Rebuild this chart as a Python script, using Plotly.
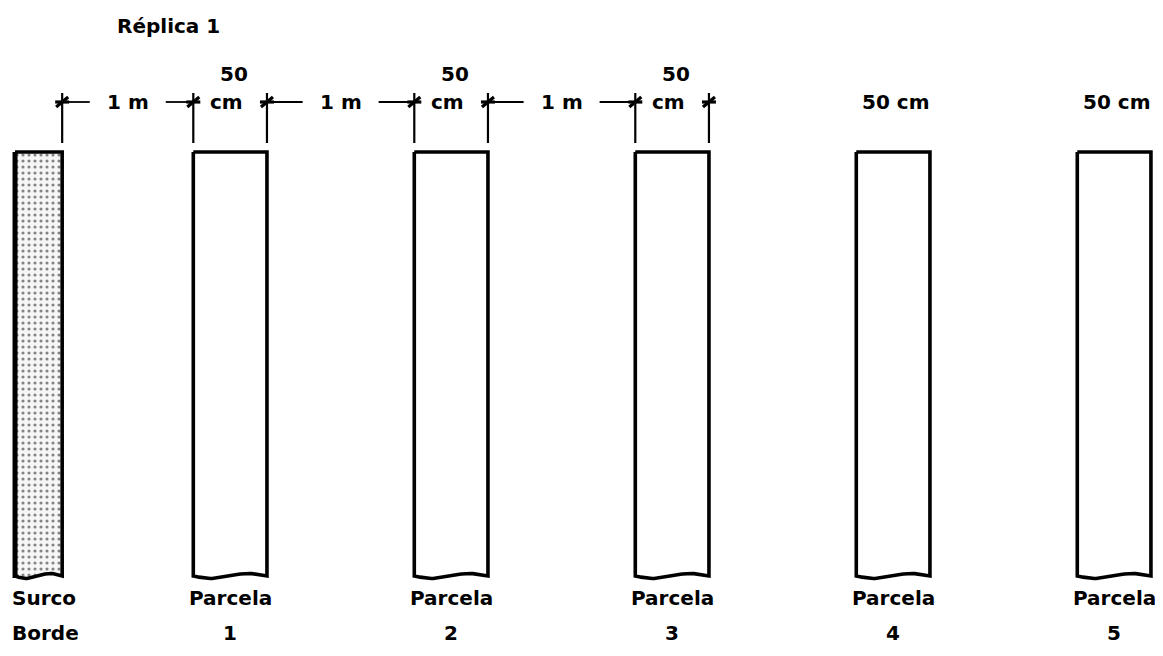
import numpy as np
import plotly.graph_objects as go

# ---------------- data ----------------
title_text = "Réplica 1"
row_names = ["Surco", "Parcela", "Parcela", "Parcela", "Parcela", "Parcela"]
row_ids = ["Borde", "1", "2", "3", "4", "5"]
row_widths_cm = [32, 50, 50, 50, 50, 50]          # width of each row
gap_before_cm = [0, 89, 100, 100, 100, 100]       # spacing before each row, as drawn
gap_label = "1 m"
width_value = "50"
width_unit = "cm"
dimensioned_gaps = [1, 2, 3]      # gaps carrying a "1 m" label (index of following row)
stacked_width_rows = [1, 2, 3]    # rows with "50" above "cm"
inline_width_rows = [4, 5]        # rows with "50 cm" on one line

# ---------------- layout constants ----------------
W, H = 1163, 656
PAGE_OFFSET = 8                    # default body margin of the page
FIG_W, FIG_H = W - PAGE_OFFSET, H - PAGE_OFFSET
PX_PER_CM = 1.4733
X0 = -10.2                          # value at window x = 0
X_MIN = X0 + PAGE_OFFSET / PX_PER_CM
X_MAX = X_MIN + FIG_W / PX_PER_CM
ROW_TOP, ROW_BOTTOM = 152, 576
DIM_Y = 102
FONT = dict(family="DejaVu Sans", size=20, color="black")

def px(v):
    return v / PX_PER_CM

lefts = []
pos = 0.0
for g, w in zip(gap_before_cm, row_widths_cm):
    pos += g
    lefts.append(pos)
    pos += w
rights = [l + w for l, w in zip(lefts, row_widths_cm)]
centers = [(l + r) / 2 for l, r in zip(lefts, rights)]

fig = go.Figure()

# ---------------- rows ----------------
for i, (l, r) in enumerate(zip(lefts, rights)):
    t = np.linspace(0, 1, 40)
    wx = r - (r - l) * t
    wy = ROW_BOTTOM + 2.5 * np.sin(2 * np.pi * (1 - t))
    xs = [l, r] + list(wx) + [l]
    ys = [ROW_TOP, ROW_TOP] + list(wy) + [ROW_TOP]
    kw = {}
    if i == 0:
        kw = dict(fill="toself", fillcolor="white",
                  fillpattern=dict(shape=".", size=6, solidity=0.22,
                                   fgcolor="#111", bgcolor="#f6f6f6"))
    fig.add_trace(go.Scatter(x=xs, y=ys, mode="lines",
                             line=dict(color="black", width=3.6),
                             hoverinfo="skip", showlegend=False, **kw))
# heavier left edge of the border row
fig.add_trace(go.Scatter(x=[lefts[0], lefts[0]], y=[ROW_TOP, ROW_BOTTOM + 2], mode="lines",
                         line=dict(color="black", width=5), hoverinfo="skip", showlegend=False))

# ---------------- dimension line ----------------
tick_x = [rights[0]]
for k in stacked_width_rows:
    tick_x += [lefts[k], rights[k]]
vx, vy, sx, sy = [], [], [], []
for x in tick_x:
    vx += [x, x, None]
    vy += [DIM_Y - 9, ROW_TOP - 9, None]
    sx += [x - px(6), x + px(6), None, x - px(7), x + px(7), None]
    sy += [DIM_Y + 5, DIM_Y - 5, None, DIM_Y, DIM_Y, None]
fig.add_trace(go.Scatter(x=vx, y=vy, mode="lines", line=dict(color="black", width=2.2),
                         hoverinfo="skip", showlegend=False))
fig.add_trace(go.Scatter(x=sx, y=sy, mode="lines", line=dict(color="black", width=3.2),
                         hoverinfo="skip", showlegend=False))

hx, hy = [], []
for k in dimensioned_gaps:
    a, b = rights[k - 1], lefts[k]
    c = (a + b) / 2
    hx += [a, c - px(38), None, c + px(38), b, None]
    hy += [DIM_Y, DIM_Y, None, DIM_Y, DIM_Y, None]
    fig.add_annotation(x=c, y=DIM_Y, text="<b>%s</b>" % gap_label, showarrow=False,
                       font=FONT, xanchor="center", yanchor="middle")
fig.add_trace(go.Scatter(x=hx, y=hy, mode="lines", line=dict(color="black", width=1.8),
                         hoverinfo="skip", showlegend=False))

for k in stacked_width_rows:
    fig.add_annotation(x=centers[k] + px(4), y=74, text="<b>%s</b>" % width_value,
                       showarrow=False, font=FONT, xanchor="center", yanchor="middle")
    fig.add_annotation(x=centers[k] - px(4), y=DIM_Y, text="<b>%s</b>" % width_unit,
                       showarrow=False, font=FONT, xanchor="center", yanchor="middle")
for k in inline_width_rows:
    fig.add_annotation(x=centers[k] + px(3), y=DIM_Y, text="<b>%s %s</b>" % (width_value, width_unit),
                       showarrow=False, font=FONT, xanchor="center", yanchor="middle")

# ---------------- labels ----------------
for i, c in enumerate(centers):
    if i == 0:
        lx, anchor = X0 + px(10), "left"
    else:
        lx, anchor = c, "center"
    fig.add_annotation(x=lx, y=598, text="<b>%s</b>" % row_names[i], showarrow=False,
                       font=FONT, xanchor=anchor, yanchor="middle")
    fig.add_annotation(x=lx, y=633, text="<b>%s</b>" % row_ids[i], showarrow=False,
                       font=FONT, xanchor=anchor, yanchor="middle")

fig.add_annotation(x=X0 + px(115), y=26, text="<b>%s</b>" % title_text, showarrow=False,
                   font=FONT, xanchor="left", yanchor="middle")

fig.update_layout(
    width=FIG_W, height=FIG_H, margin=dict(l=0, r=0, t=0, b=0),
    paper_bgcolor="white", plot_bgcolor="white",
    xaxis=dict(range=[X_MIN, X_MAX], visible=False, fixedrange=True),
    yaxis=dict(range=[H, PAGE_OFFSET], visible=False, fixedrange=True),
)
fig.write_html("out.html")
